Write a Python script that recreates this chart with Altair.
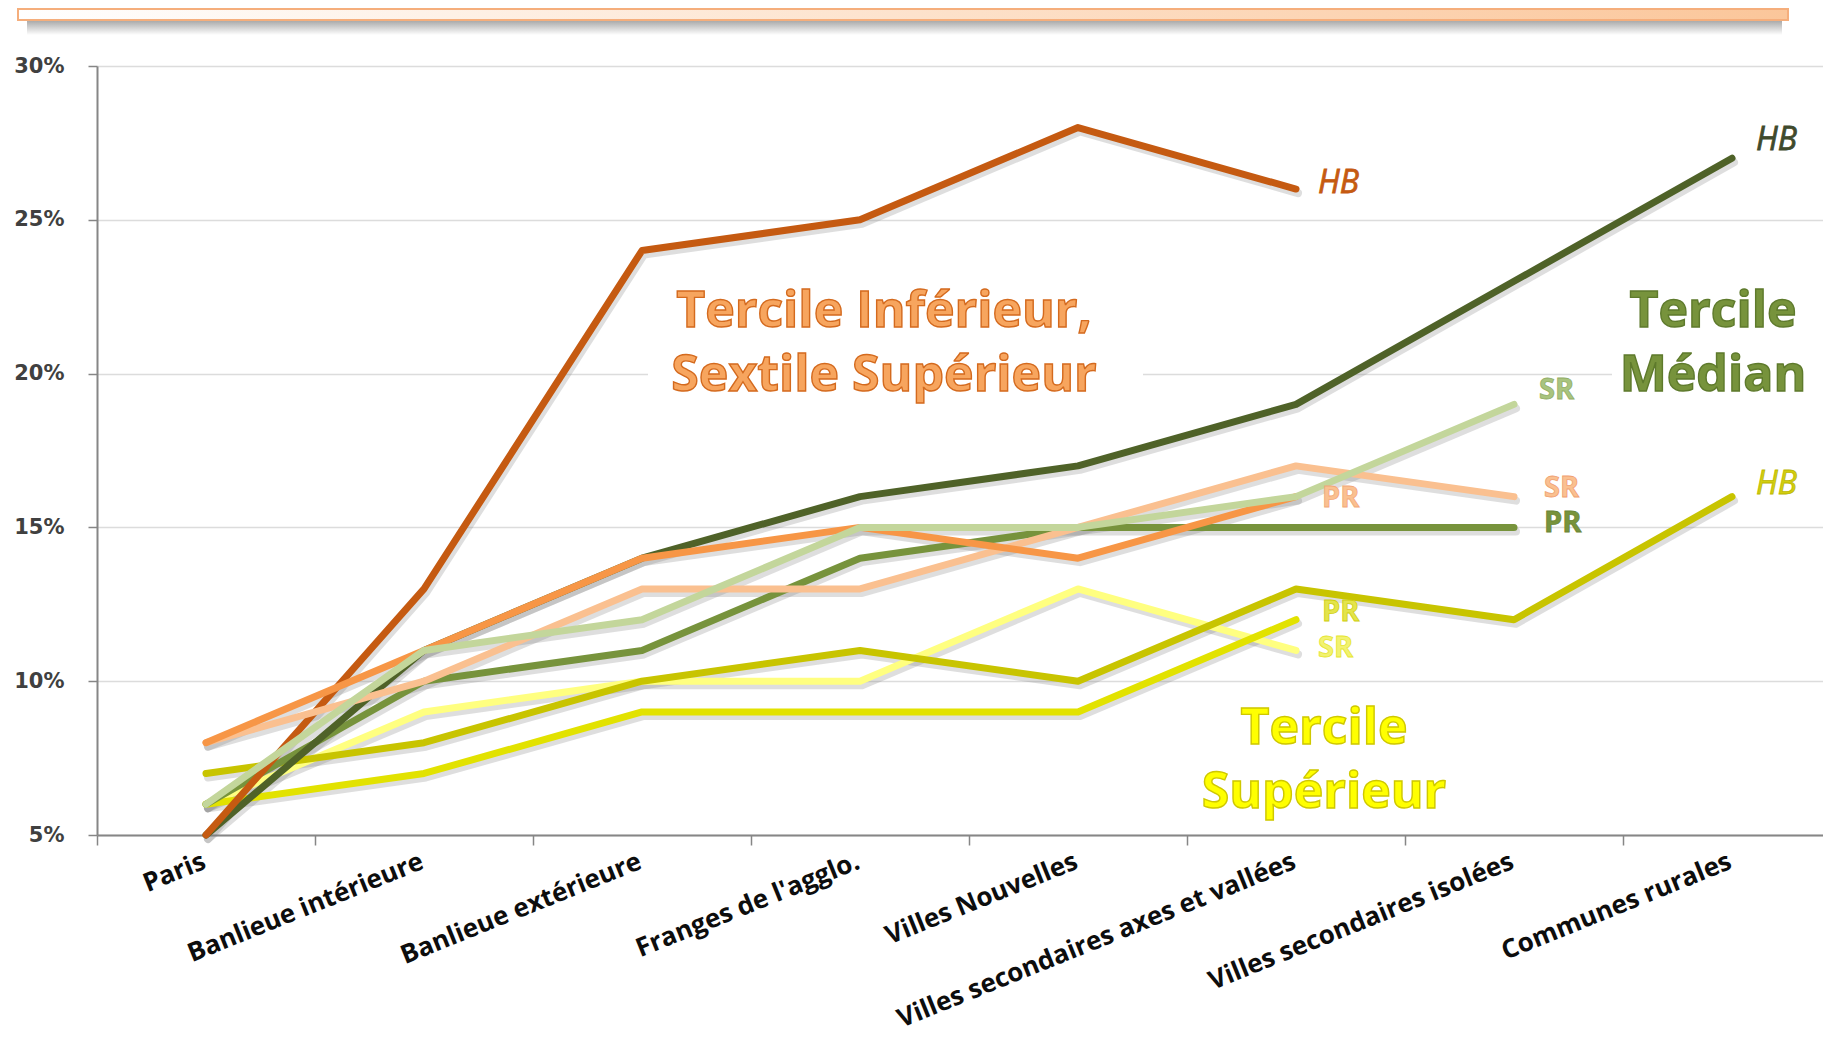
import altair as alt
import pandas as pd

# ---------------- data ----------------
categories = ["Paris", "Banlieue intérieure", "Banlieue extérieure", "Franges de l'agglo.",
              "Villes Nouvelles", "Villes secondaires axes et vallées",
              "Villes secondaires isolées", "Communes rurales"]
y_ticks = [5, 10, 15, 20, 25, 30]

# Tercile Inférieur, Sextile Supérieur (orange)
inf_HB = [5, 13, 24, 25, 28, 26, None, None]
inf_PR = [8, 11, 14, 15, 14, 16, None, None]
inf_SR = [8, 10, 13, 13, 15, 17, 16, None]
# Tercile Médian (green)
med_HB = [5, 11, 14, 16, 17, 19, 23, 27]
med_PR = [6, 10, 11, 14, 15, 15, 15, None]
med_SR = [6, 11, 12, 15, 15, 16, 19, None]
# Tercile Supérieur (yellow)
sup_HB = [7, 8, 10, 11, 10, 13, 12, 16]
sup_PR = [6, 7, 9, 9, 9, 12, None, None]
sup_SR = [6, 9, 10, 10, 13, 11, None, None]

series_values = {
    "sup_SR": sup_SR, "sup_PR": sup_PR, "sup_HB": sup_HB,
    "med_PR": med_PR, "med_HB": med_HB, "inf_HB": inf_HB,
    "inf_SR": inf_SR, "inf_PR": inf_PR, "med_SR": med_SR,
}
series_labels = {k: k.split("_")[1] for k in series_values}

group_lines = {
    "inf": ["Tercile Inférieur,", "Sextile Supérieur"],
    "med": ["Tercile", "Médian"],
    "sup": ["Tercile", "Supérieur"],
}
group_anchor_cat = {"inf": "Franges de l'agglo.", "med": "Communes rurales",
                    "sup": "Villes secondaires axes et vallées"}
group_line_vals = {"inf": [21.5, 19.45], "med": [21.5, 19.45], "sup": [7.95, 5.88]}

# ---------------- styles ----------------
line_color = {
    "inf_HB": "#C55A11", "inf_PR": "#F79646", "inf_SR": "#FAC090",
    "med_HB": "#4F6228", "med_PR": "#77933C", "med_SR": "#C3D69B",
    "sup_HB": "#C8C400", "sup_PR": "#E2E200", "sup_SR": "#FFFF80",
}
label_style = {
    "inf_HB": dict(fill="#C55A11", stroke="#C55A11", dx=22, dy=-6, italic=True),
    "med_HB": dict(fill="#3F4A2C", stroke="#3F4A2C", dx=24, dy=-18, italic=True),
    "sup_HB": dict(fill="#D2CE10", stroke="#BDB800", dx=24, dy=-13, italic=True),
    "inf_PR": dict(fill="#FAC090", stroke="#F2A878", dx=26, dy=1, italic=False),
    "inf_SR": dict(fill="#FAC090", stroke="#F0A070", dx=30, dy=-9, italic=False),
    "med_PR": dict(fill="#77933C", stroke="#6A8535", dx=30, dy=-4, italic=False),
    "med_SR": dict(fill="#A9C47F", stroke="#92AE66", dx=25, dy=-14, italic=False),
    "sup_PR": dict(fill="#E4E44A", stroke="#CFCF10", dx=26, dy=-8, italic=False),
    "sup_SR": dict(fill="#F2F270", stroke="#E6E630", dx=22, dy=-2, italic=False),
}
group_style = {
    "inf": dict(fill="#F7A55E", stroke="#D46A1E", dx=24),
    "med": dict(fill="#77933C", stroke="#5E7A2C", dx=-19),
    "sup": dict(fill="#FFFF00", stroke="#CFC800", dx=28),
}

W, H = 1726, 769
X_RANGE = 1744


def X():
    return alt.X("cat:N", sort=categories, bandPosition=0.5,
                 scale=alt.Scale(type="band", domain=categories, paddingInner=0, paddingOuter=0,
                                 range=[0, X_RANGE]),
                 axis=alt.Axis(title=None, grid=False, tickBand="extent", labelAngle=338,
                               labelAlign="right", labelBaseline="top", labelFont="Open Sans",
                               labelFontWeight="bold", labelFontSize=26, labelColor="#0D0D0D",
                               labelPadding=3, labelOffset=-7, labelLimit=0, labelOverlap=False,
                               domainColor="#868686", domainWidth=2, tickColor="#868686",
                               tickWidth=1.5, tickSize=10))


def Y():
    return alt.Y("val:Q", scale=alt.Scale(domain=[5, 30], nice=False, zero=False),
                 axis=alt.Axis(title=None, values=y_ticks, labelExpr="datum.value + '%'",
                               grid=True, gridColor="#DCDCDC", gridWidth=1.5,
                               labelFont="DejaVu Sans", labelFontWeight="bold", labelFontSize=21,
                               labelColor="#404040", labelPadding=24, domainColor="#868686",
                               domainWidth=2, tickColor="#868686", tickWidth=1.5, tickSize=9))


one = pd.DataFrame({"k": [0]})
layers = []

# top decorative bar and its shadow
layers.append(alt.Chart(one).mark_rect(
    fill=alt.LinearGradient(gradient="linear", x1=0, x2=0, y1=0, y2=1,
                            stops=[alt.GradientStop(offset=0, color="#8E8E8E"),
                                   alt.GradientStop(offset=1, color="#FFFFFF")]),
    opacity=0.8).encode(x=alt.value(-70), x2=alt.value(1685), y=alt.value(-46), y2=alt.value(-31)))
layers.append(alt.Chart(one).mark_rect(
    fill=alt.LinearGradient(gradient="linear", x1=0, x2=1, y1=0, y2=0,
                            stops=[alt.GradientStop(offset=0, color="#FFFFFF"),
                                   alt.GradientStop(offset=1, color="#FBC69A")]),
    stroke="#F5AE7C", strokeWidth=2).encode(
    x=alt.value(-79), x2=alt.value(1691), y=alt.value(-57), y2=alt.value(-46)))

# white boxes behind the group titles
layers.append(alt.Chart(one).mark_rect(color="white").encode(
    x=alt.value(551), x2=alt.value(1046), y=alt.value(209), y2=alt.value(357)))
layers.append(alt.Chart(one).mark_rect(color="white").encode(
    x=alt.value(1515), x2=alt.value(1744), y=alt.value(209), y2=alt.value(355)))

frames = {}
for name, vals in series_values.items():
    rows = [{"cat": c, "val": v, "idx": i} for i, (c, v) in enumerate(zip(categories, vals)) if v is not None]
    frames[name] = pd.DataFrame(rows)

# shadows
for name, df in frames.items():
    layers.append(alt.Chart(df).mark_line(
        color="#7A7A7A", opacity=0.25, strokeWidth=8, xOffset=2, yOffset=4,
        strokeCap="round", strokeJoin="round").encode(x=X(), y=Y(), order="idx:Q"))

# lines
for name, df in frames.items():
    layers.append(alt.Chart(df).mark_line(
        color=line_color[name], strokeWidth=7, strokeCap="round", strokeJoin="round").encode(
        x=X(), y=Y(), order="idx:Q"))

# end labels
for name, df in frames.items():
    st = label_style[name]
    last = df.tail(1).assign(text=series_labels[name])
    layers.append(alt.Chart(last).mark_text(
        align="left", baseline="middle", dx=st["dx"], dy=st["dy"],
        font="Open Sans", fontSize=32 if st["italic"] else 29,
        fontWeight="normal" if st["italic"] else "bold",
        fontStyle="italic" if st["italic"] else "normal",
        fill=st["fill"], stroke=st["stroke"], strokeWidth=0.8).encode(
        x=X(), y=Y(), text="text:N"))

# group titles
for g, lines in group_lines.items():
    st = group_style[g]
    df = pd.DataFrame({"cat": [group_anchor_cat[g]] * len(lines), "val": group_line_vals[g], "text": lines})
    layers.append(alt.Chart(df).mark_text(
        align="center", baseline="alphabetic", dx=st["dx"], font="Open Sans", fontSize=50,
        fontWeight="bold", fill=st["fill"], stroke=st["stroke"], strokeWidth=1.4).encode(
        x=X(), y=Y(), text="text:N"))

chart = alt.layer(*layers).properties(
    width=W, height=H,
    autosize=alt.AutoSizeParams(type="none"),
    padding={"left": 89, "top": 58, "right": 0, "bottom": 207},
).configure_view(strokeWidth=0)

chart.save("out.html", embed_options={"renderer": "svg", "actions": False})
